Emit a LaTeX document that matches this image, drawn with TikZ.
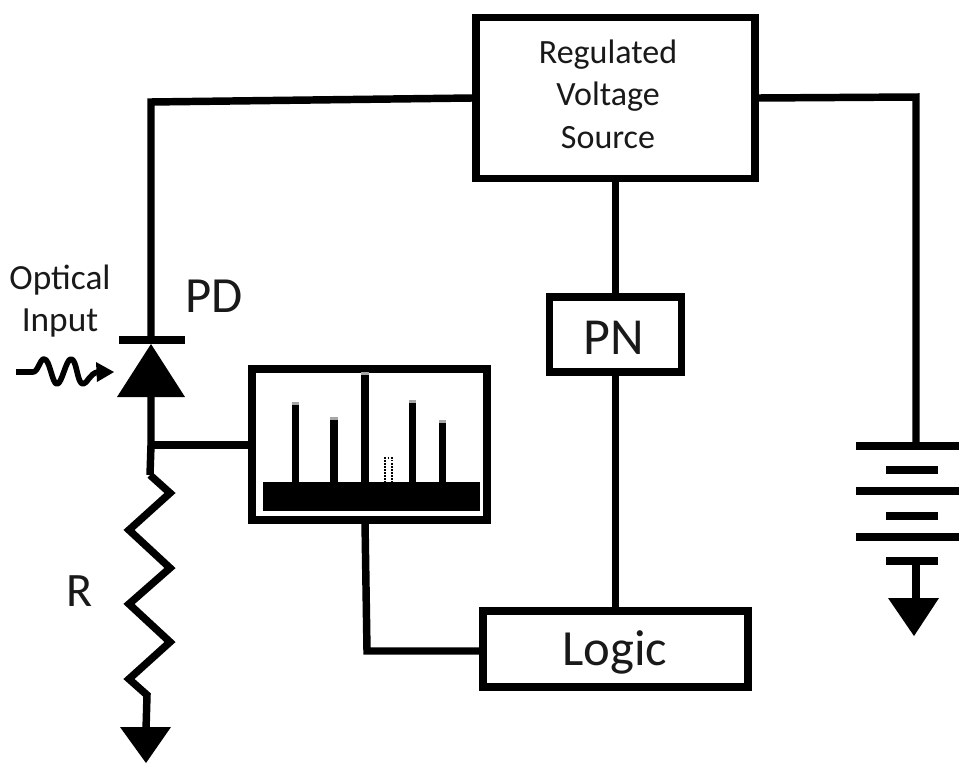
\documentclass[tikz,border=0pt]{standalone}
\usepackage{fontspec}
\setmainfont{Carlito}
\begin{document}
\begin{tikzpicture}[x=0.75pt,y=-0.75pt,line join=miter,
  wire/.style={line width=5.6pt,black},
  boxn/.style={draw=black,line width=5.6pt,fill=white,rectangle,inner sep=0pt,align=center},
  sym/.style={fill=black,draw=none},
  lab/.style={inner sep=0pt,text=black!90,align=center}]
\useasboundingbox (0,0) rectangle (959,763);
% blocks
\node[boxn,minimum width=209pt,minimum height=121pt] (rvs) at (615.5,98) {};
\node[boxn,minimum width=99pt,minimum height=56pt] (pn) at (615.5,334.5) {};
\node[boxn,minimum width=199pt,minimum height=57pt] (logic) at (615.5,649) {};
\node[boxn,minimum width=176pt,minimum height=113pt] (spec) at (369.5,444.5) {};
% labels
\node[lab,font=\fontsize{25.5pt}{32pt}\selectfont] at (608,94) {Regulated\\Voltage\\Source};
\node[lab,font=\fontsize{39pt}{46pt}\selectfont] at (614,338) {PN};
\node[lab,font=\fontsize{38pt}{46pt}\selectfont] at (615,652) {Logic};
\node[lab,font=\fontsize{38pt}{44pt}\selectfont] (pdl) at (214,296) {PD};
\node[lab,font=\fontsize{36pt}{44pt}\selectfont] (rl) at (80,591) {R};
\node[lab,font=\fontsize{26.5pt}{31.5pt}\selectfont] (opt) at (60,301) {Optical\\Input};
% named points
\coordinate (tl) at (151,102);
\coordinate (k) at (151,340);
\coordinate (a) at (151,396);
\coordinate (tap) at (151,445);
\coordinate (r0) at (150,475);
\coordinate (r1) at (147,695);
\coordinate (g1) at (146,730);
\coordinate (tr) at (916,97);
\coordinate (b1) at (916,446);
\coordinate (b2) at (916,561);
\coordinate (g2) at (916,602);
\coordinate (sl) at (367,651);
\coordinate (ss) at (365,522);
% wires
\draw[wire] (rvs.west) -- (tl) -- (k);
\draw[wire] (rvs.east) -- (tr) -- (b1);
\draw[wire] (rvs.south) -- (pn.north);
\draw[wire] (pn.south) -- (logic.north);
\draw[wire] (a) -- (tap) -- (r0);
\draw[wire] (tap) -- (spec.west |- tap);
\draw[wire] (ss) -- (sl) -- (logic.west |- sl);
\draw[wire] (r0) -- (170,493) -- (129,530) -- (170,568) -- (129,604) -- (170,642) -- (129,679) -- (r1) -- (g1);
\draw[wire] (b2) -- (g2);
% diode
\draw[wire] (119,340) -- (185,340);
\fill[sym] (151,344) -- (185,397) -- (117,397) -- cycle;
% ground arrows
\fill[sym] (120,727) -- (171,727) -- (146,763) -- cycle;
\fill[sym] (888,598) -- (939,598) -- (914,636) -- cycle;
% battery
\foreach \yy in {446,491,537} \draw[wire] (856,\yy) -- (959,\yy);
\foreach \yy in {470,516,561} \draw[wire] (886,\yy) -- (938,\yy);
% optical input
\draw[line width=4.2pt,black,line join=round] (16,372) -- (33,372) .. controls (38,372) and (40,359) .. (44,359) .. controls (50,359) and (52,384) .. (57,384) .. controls (62,384) and (66,359) .. (71,359) .. controls (77,359) and (77,384) .. (83,384) .. controls (87,384) and (90,373) .. (98,372);
\fill[sym] (114,372) -- (96,362) -- (97,382) -- cycle;
% spectrum
\fill[sym] (263,482) rectangle (480,511);
\foreach \xa/\xb/\yy in {292/299/405,330/338/420,361/369/375,409/416/403,439/446/423} {
  \fill[sym] (\xa,\yy) rectangle (\xb,483);
  \fill[black!35] (\xa,\yy-3) rectangle (\xb,\yy);
}
\draw[densely dotted,line width=1.3pt,black] (385,483) -- (385,458) -- (392,458) -- (392,483);
\end{tikzpicture}
\end{document}
